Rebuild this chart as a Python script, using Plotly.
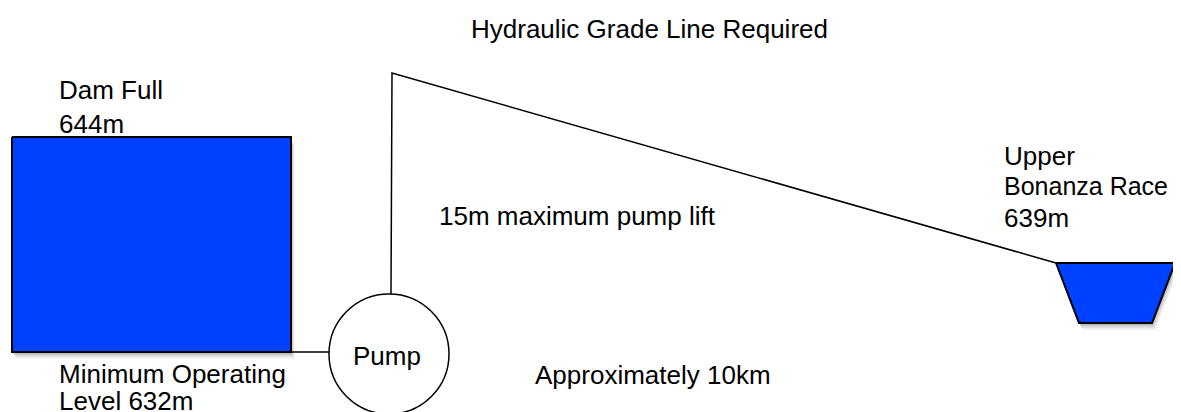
import plotly.graph_objects as go

# Diagram geometry (in diagram units, x to the right, y downward)
dam_x = [12, 291, 291, 12, 12]
dam_y = [137, 137, 352, 352, 137]

race_x = [1056, 1175, 1152, 1079, 1056]
race_y = [263, 263, 323, 323, 263]

pipe_in_x = [291, 330]
pipe_in_y = [352, 352]

hgl_x = [391, 392, 1056]
hgl_y = [294, 73, 263]

pump_cx, pump_cy, pump_r = 389, 354, 60

labels = [
    ("Hydraulic Grade Line Required", 649, 29, "center", 26),
    ("Dam Full", 57, 90, "left", 26),
    ("644m", 57, 124, "left", 26),
    ("Upper", 1002, 156, "left", 26),
    ("Bonanza Race", 1002, 186, "left", 25),
    ("639m", 1002, 218, "left", 26),
    ("15m maximum pump lift", 437, 216, "left", 26),
    ("Pump", 387, 356, "center", 26),
    ("Minimum Operating", 57, 374, "left", 26),
    ("Level 632m", 57, 401, "left", 26),
    ("Approximately 10km", 533, 375, "left", 26),
]

BLUE = "#0041FF"
FONT = "Liberation Sans, Arial, Helvetica, sans-serif"

fig = go.Figure()

# soft drop shadows
for off, op in [(7, 0.06), (5, 0.08), (3, 0.10), (1.5, 0.12)]:
    fig.add_trace(go.Scatter(x=[v + off * 0.5 for v in dam_x], y=[v + off for v in dam_y],
                             mode="lines", fill="toself", fillcolor=f"rgba(0,0,0,{op})",
                             line=dict(width=0), hoverinfo="skip", showlegend=False))
    fig.add_trace(go.Scatter(x=[v + off * 0.5 for v in race_x], y=[v + off for v in race_y],
                             mode="lines", fill="toself", fillcolor=f"rgba(0,0,0,{op})",
                             line=dict(width=0), hoverinfo="skip", showlegend=False))

fig.add_trace(go.Scatter(x=dam_x, y=dam_y, mode="lines", fill="toself", fillcolor=BLUE,
                         line=dict(color="black", width=2), hoverinfo="skip", showlegend=False))
fig.add_trace(go.Scatter(x=race_x, y=race_y, mode="lines", fill="toself", fillcolor=BLUE,
                         line=dict(color="black", width=2), hoverinfo="skip", showlegend=False))
fig.add_trace(go.Scatter(x=pipe_in_x, y=pipe_in_y, mode="lines",
                         line=dict(color="black", width=1.5), hoverinfo="skip", showlegend=False))
fig.add_trace(go.Scatter(x=hgl_x, y=hgl_y, mode="lines",
                         line=dict(color="black", width=1.5), hoverinfo="skip", showlegend=False))

fig.add_shape(type="circle", xref="x", yref="y",
              x0=pump_cx - pump_r, x1=pump_cx + pump_r,
              y0=pump_cy - pump_r, y1=pump_cy + pump_r,
              line=dict(color="black", width=1.5), fillcolor="white")

for txt, x, y, anchor, size in labels:
    fig.add_annotation(x=x, y=y, text=txt, showarrow=False, xref="x", yref="y",
                       xanchor=anchor, yanchor="middle",
                       font=dict(family=FONT, size=size, color="black"))

# page body has an 8px margin: offset the figure so diagram units equal page pixels
fig.update_layout(
    width=1173, height=404,
    margin=dict(l=0, r=0, t=0, b=0),
    paper_bgcolor="white", plot_bgcolor="white",
    xaxis=dict(range=[8, 1181], visible=False, fixedrange=True),
    yaxis=dict(range=[412, 8], visible=False, fixedrange=True),
)

fig.write_html("out.html")
